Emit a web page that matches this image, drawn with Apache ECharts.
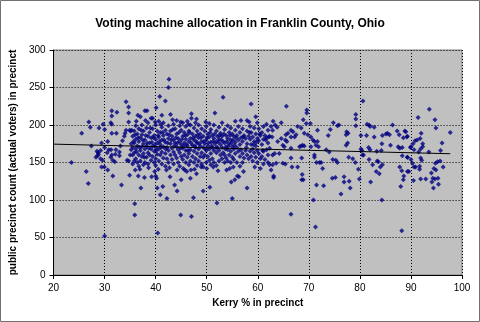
<!DOCTYPE html>
<html>
<head>
<meta charset="utf-8">
<script src="https://cdn.jsdelivr.net/npm/echarts@6/dist/echarts.min.js"></script>
<style>
html,body{margin:0;padding:0;background:#fff;}
#c{width:480px;height:322px;}
</style>
</head>
<body>
<div id="c"></div>
<script>
// Kerry % vs. public precinct count, grouped by Kerry-% range
const precinctsBelow35 = [
[23.5,150],[25.5,189],[26.9,204],[27.2,197],[26.4,138],[26.8,122],[27.4,172],[28.5,165],[28.7,163],[28.3,157],
[28.8,161],[29.2,166],[28.6,159],[28.9,196],[29.4,176],[29.7,201],[30.0,194],[29.6,153],[29.4,144],[29.95,144],
[30.0,52],[30.6,178],[30.6,140],[31.4,219],[31.4,212],[32.4,217],[31.2,203],[31.4,201],[31.4,189],[32.3,189],
[31.25,167],[31.4,160],[31.2,157],[32.1,161],[31.6,153],[32.0,151],[31.6,132],[33.3,120],[32.9,164],[32.9,159],
[33.1,172],[33.5,179],[33.85,185],[34.0,189],[34.2,193],[34.2,231],[34.7,224],[34.7,216],[34.7,204],[34.9,193],
[35.1,192],[35.3,193],[34.4,153],[34.7,152],[34.9,133],[35.2,175],[35.2,167],[35.0,160],[30.8,167],[30.5,163],
[30.0,170],[29.2,155],[32.2,167]
];
const precincts35to49 = [
[35.5,185],[35.5,170],[35.5,160],[35.5,148],[35.8,192],[35.8,176],[35.8,163],[35.8,152],
[36.1,199],[36.1,181],[36.1,168],[36.1,155],[36.4,188],[36.4,172],[36.4,150],[36.5,213],
[36.7,195],[36.7,178],[36.7,160],[36.7,145],[37.0,183],[37.0,166],[37.0,152],[37.0,211],
[37.3,200],[37.3,187],[37.3,171],[37.3,158],[37.6,192],[37.6,175],[37.6,162],[37.6,147],
[37.9,219],[37.9,180],[37.9,168],[37.9,150],[38.2,196],[38.2,172],[38.2,157],[38.3,219],
[38.5,203],[38.5,185],[38.5,163],[38.5,148],[38.8,190],[38.8,176],[38.8,160],
[39.1,209],[39.1,183],[39.1,168],[39.1,153],[39.4,209],[39.4,195],[39.4,172],[39.4,158],
[39.7,186],[39.7,165],[39.7,150],[40.0,200],[40.0,181],[40.0,170],[40.0,155],[40.0,146],
[40.1,223],[40.3,192],[40.3,176],[40.3,161],[40.6,205],[40.6,184],[40.6,168],[40.6,152],
[40.8,238],[40.9,190],[40.9,174],[40.9,160],[41.2,213],[41.2,197],[41.2,180],[41.2,164],[41.2,148],
[41.5,203],[41.5,186],[41.5,171],[41.5,156],[41.9,232],[41.9,193],[41.9,177],[41.9,162],[41.9,145],
[42.2,188],[42.2,170],[42.2,155],[42.5,250],[42.5,199],[42.5,182],[42.5,166],[42.5,150],[42.6,261],
[42.9,214],[42.9,192],[42.9,175],[42.9,160],[43.2,185],[43.2,169],[43.2,154],
[43.5,201],[43.5,180],[43.5,164],[43.5,148],[43.8,195],[43.8,176],[43.8,160],
[44.1,206],[44.1,188],[44.1,171],[44.1,156],[44.4,182],[44.4,167],[44.4,150],
[44.7,199],[44.7,178],[44.7,163],[44.7,145],[45.0,193],[45.0,174],[45.0,158],
[45.3,203],[45.3,185],[45.3,169],[45.3,154],[45.6,190],[45.6,176],[45.6,160],
[45.9,198],[45.9,181],[45.9,166],[45.9,150],[46.2,205],[46.2,187],[46.2,172],[46.2,157],
[46.5,192],[46.5,178],[46.5,162],[46.5,147],[46.8,200],[46.8,182],[46.8,167],[46.8,152],
[47.0,215],[47.0,209],[47.2,188],[47.2,173],[47.2,158],[47.5,196],[47.5,180],[47.5,165],[47.5,150],
[47.8,203],[47.8,185],[47.8,170],[47.8,155],[48.1,192],[48.1,176],[48.1,162],[48.1,146],
[48.4,200],[48.4,183],[48.4,168],[48.4,152],[48.7,188],[48.7,172],[48.7,158],
[49.0,195],[49.0,178],[49.0,163],[49.0,148],
[35.65,178],[35.95,187],[36.25,164],[36.55,183],[36.85,170],[37.15,193],[37.45,180],[37.75,157],
[38.05,186],[38.35,176],[38.65,169],[38.95,196],[39.25,177],[39.55,183],[39.85,174],[40.15,166],
[40.45,186],[40.75,178],[41.05,170],[41.35,190],[41.65,180],[41.95,168],[42.35,176],[42.65,187],
[43.05,180],[43.35,194],[43.65,172],[43.95,183],[44.25,176],[44.55,190],[44.85,169],[45.15,181],
[45.45,172],[45.75,186],[46.05,174],[46.35,166],[46.65,190],[46.95,176],[47.35,183],[47.65,172],
[47.95,178],[48.25,187],[48.55,175],[48.85,183],
[36.2,205],[38.0,206],[39.9,204],[41.0,201],[43.3,207],[44.9,204],[46.4,201],[48.0,208],
[36.9,141],[38.6,143],[40.5,141],[42.7,143],[44.2,140],[45.4,142],[47.6,141],[48.9,144],
[36.0,140],[36.6,132],[37.8,130],[37.1,116],[35.9,95],[35.9,80],[40.3,116],[41.4,118],[40.9,107],
[42.2,102],[40.4,56],[44.9,80],[47.0,78],[47.4,103],[43.7,120],[44.2,112],[45.0,127],[46.8,129],
[39.8,138],[40.0,132],[40.2,129],[39.2,131],[42.1,140],[42.8,131],[45.7,140],[46.1,138],[46.9,140],[48.0,135]
];
const precincts49to62 = [
[49.3,185],[49.3,170],[49.3,157],[49.6,192],[49.6,175],[49.6,160],[49.8,204],
[49.9,198],[49.9,180],[49.9,166],[49.9,150],[50.2,188],[50.2,172],[50.2,158],
[50.5,202],[50.5,184],[50.5,168],[50.5,153],[50.8,194],[50.8,177],[50.8,162],[50.8,147],
[51.1,186],[51.1,170],[51.1,155],[51.4,200],[51.4,182],[51.4,166],[51.4,150],
[51.6,216],[51.6,175],[51.9,192],[51.9,178],[51.9,163],[51.9,146],[52.1,185],[52.1,170],
[52.4,197],[52.4,181],[52.4,166],[52.4,152],[52.7,189],[52.7,174],[52.7,160],
[53.0,203],[53.0,185],[53.0,170],[53.0,155],[53.2,237],[53.2,178],[53.2,163],
[53.5,194],[53.5,176],[53.5,160],[53.8,186],[53.8,171],[53.8,156],
[54.1,199],[54.1,182],[54.1,167],[54.1,152],[54.4,190],[54.4,175],[54.4,160],
[54.7,196],[54.7,180],[54.7,165],[54.7,150],[55.0,188],[55.0,171],[55.0,157],
[55.3,185],[55.3,168],[55.3,154],[55.6,205],[55.6,193],[55.6,177],[55.6,162],
[55.9,186],[55.9,170],[55.9,150],[56.2,198],[56.2,180],[56.2,165],
[56.5,190],[56.5,174],[56.5,158],[56.5,145],[56.7,206],[56.7,183],[56.7,167],
[57.0,195],[57.0,178],[57.0,162],[57.0,150],[57.3,186],[57.3,156],
[57.6,182],[57.6,166],[57.9,206],[57.9,192],[57.9,175],[57.9,160],
[58.2,185],[58.2,155],[58.3,204],[58.5,198],[58.5,181],[58.5,165],
[58.7,228],[58.7,190],[58.7,174],[58.7,158],[59.0,184],[59.0,168],[59.0,152],
[59.3,196],[59.3,178],[59.3,163],[59.6,211],[59.6,188],[59.6,172],[59.6,157],
[59.9,203],[59.9,182],[59.9,166],[59.9,150],[60.2,195],[60.2,179],[60.2,162],
[60.5,186],[60.5,155],[60.8,190],[60.8,174],[60.8,158],
[61.1,198],[61.1,181],[61.1,165],[61.1,148],[61.4,186],[61.4,154],
[61.7,201],[61.7,183],[61.7,167],[62.0,193],[62.0,176],[62.0,160],[62.0,150],
[62.3,185],[62.3,169],[62.3,147],
[49.45,178],[49.75,168],[50.05,183],[50.35,176],[50.65,190],[50.95,172],[51.25,178],[51.55,188],
[51.85,170],[52.25,177],[52.55,186],[52.85,180],[53.35,188],[53.65,168],[53.95,178],[54.25,172],
[54.55,186],[54.85,176],[55.15,180],[55.45,173],[55.75,183],
[57.15,184],[57.75,170],[58.35,190],[59.15,174],[59.75,177],[60.35,188],[60.95,166],[61.55,180],[62.15,184],
[49.3,112],[50.6,117],[52.0,96],[55.0,102],[54.8,124],[55.5,127],[56.0,132],[56.3,131],[57.9,116],
[57.2,138],[59.4,144],[60.5,142],[49.3,144],[50.0,142],[51.3,144],[52.2,139],[53.5,150],[54.5,142],
[55.2,144],[53.9,140]
];
const precincts62to76 = [
[65.5,187],[65.9,189],[65.4,180],[65.7,178],[66.5,193],[66.9,191],[66.5,184],[67.2,184],[67.5,187],
[67.8,198],[68.5,196],[68.9,207],[69.5,202],[70.3,202],[69.1,189],[69.8,187],[70.4,184],[70.8,180],
[71.1,178],[71.7,178],[71.4,173],[71.7,193],[71.9,171],[70.4,171],[69.1,172],[68.8,173],[68.5,172],
[68.2,171],[66.5,169],[65.2,171],[64.9,173],[63.9,178],[64.6,182],[64.2,162],[63.3,162],[62.9,160],
[63.6,149],[62.9,147],[62.6,140],[64.9,149],[65.4,148],[66.7,144],[67.8,144],[68.6,156],[66.5,156],
[71.1,157],[71.1,160],[71.5,150],[72.1,150],[72.4,150],[72.7,142],[74.0,164],[74.7,154],[75.3,153],
[75.6,150],[73.4,167],[74.2,194],[73.8,186],[74.8,203],[75.6,199],[75.9,200],[74.6,129],[75.2,130],
[76.3,108],[68.7,134],[68.9,127],[68.6,127],[63.1,132],[63.1,130],[65.6,225],[69.6,220],[69.6,216],
[66.5,81],[71.3,64],[70.9,100],[71.5,120],[72.9,119],[62.6,198],[62.9,193],[62.8,184],
[63.0,205],[63.4,200],[63.8,197],[64.6,203]
];
const precincts76to90 = [
[80.6,232],[79.2,214],[79.2,208],[79.2,199],[81.4,201],[81.8,200],[82.0,198],[82.8,197],[86.4,200],
[87.3,192],[87.7,187],[88.8,192],[88.5,183],[89.3,185],[77.4,191],[77.7,189],[77.3,187],[77.6,176],
[77.3,173],[80.2,186],[81.3,186],[82.8,184],[84.4,186],[85.1,188],[85.4,189],[85.8,187],[80.2,168],
[80.4,166],[80.5,160],[81.7,170],[82.0,167],[83.3,165],[84.2,166],[84.3,175],[86.0,173],[87.5,171],
[87.8,169],[88.3,170],[89.9,170],[77.8,157],[78.6,155],[79.1,150],[79.7,141],[81.8,154],[82.5,147],
[83.4,152],[83.6,151],[84.0,144],[84.4,147],[83.2,138],[83.8,135],[76.9,131],[76.9,124],[77.9,125],
[78.1,116],[79.9,128],[82.1,124],[84.3,100],[88.2,59],[87.8,144],[88.2,139],[88.6,132],[88.5,127],
[88.0,118],[88.3,159],[89.3,157],[89.3,138],[89.6,138],[80.7,160]
];
const precinctsAbove90 = [
[93.6,221],[91.4,210],[94.7,207],[94.9,196],[97.7,190],[92.0,189],[91.8,182],[91.2,180],[90.8,179],
[90.4,175],[92.3,175],[92.3,171],[91.9,168],[91.5,164],[90.6,167],[90.0,171],[93.5,164],[96.1,176],
[95.8,166],[89.2,184],[89.0,191],[89.3,157],[90.0,154],[90.3,149],[91.9,156],[92.1,153],[91.7,145],
[90.9,144],[91.7,141],[90.6,144],[94.8,149],[95.2,151],[95.7,152],[94.5,142],[94.9,140],[96.3,144],
[94.0,136],[94.3,129],[94.7,128],[95.3,129],[94.1,124],[95.4,121],[94.4,116],[92.9,128],[90.5,126],[91.9,128]
];
// linear trend line endpoints
const trendX = [20, 97.7];
const trendY = [174.5, 161.7];
const xTicks = [20, 30, 40, 50, 60, 70, 80, 90, 100];
const yTicks = [0, 50, 100, 150, 200, 250, 300];

const points = [].concat(precinctsBelow35, precincts35to49, precincts49to62,
                         precincts62to76, precincts76to90, precinctsAbove90);
const trend = trendX.map((x, i) => [x, trendY[i]]);

const FONT = '"Liberation Sans", Arial, sans-serif';
const chart = echarts.init(document.getElementById('c'), null, {renderer: 'canvas'});
chart.setOption({
  animation: false,
  backgroundColor: '#ffffff',
  title: {
    text: 'Voting machine allocation in Franklin County, Ohio',
    left: 'center', top: 13,
    textStyle: {fontFamily: FONT, fontSize: 12, fontWeight: 'bold', color: '#000'}
  },
  grid: {left: 52, right: 18, top: 50, bottom: 47, show: true,
         backgroundColor: '#C0C0C0', borderColor: '#808080', borderWidth: 1},
  xAxis: {
    type: 'value', min: xTicks[0], max: xTicks[xTicks.length - 1], interval: 10,
    name: 'Kerry % in precinct', nameLocation: 'middle', nameGap: 23,
    nameTextStyle: {fontFamily: FONT, fontSize: 10, fontWeight: 'bold', color: '#000'},
    axisLine: {lineStyle: {color: '#000', width: 1}},
    axisTick: {show: true, length: 4, lineStyle: {color: '#000'}},
    axisLabel: {fontFamily: FONT, fontSize: 10, color: '#000', margin: 8},
    splitLine: {show: true, lineStyle: {color: '#000', type: [1, 2], width: 1}}
  },
  yAxis: {
    type: 'value', min: yTicks[0], max: yTicks[yTicks.length - 1], interval: 50,
    name: 'public precinct count (actual voters) in precinct', nameLocation: 'middle', nameGap: 34,
    nameTextStyle: {fontFamily: FONT, fontSize: 10, fontWeight: 'bold', color: '#000'},
    axisLine: {show: true, lineStyle: {color: '#000', width: 1}},
    axisTick: {show: true, length: 4, lineStyle: {color: '#000'}},
    axisLabel: {fontFamily: FONT, fontSize: 10, color: '#000', margin: 8},
    splitLine: {show: true, lineStyle: {color: '#000', type: [1, 2], width: 1}}
  },
  series: [
    {type: 'scatter', data: points, symbol: 'diamond', symbolSize: 5,
     itemStyle: {color: '#000080'}, z: 2},
    {type: 'line', data: trend, showSymbol: false, symbol: 'none',
     lineStyle: {color: '#000', width: 1}, z: 3}
  ],
  graphic: [{type: 'rect', shape: {x: 0.5, y: 0.5, width: 479, height: 321},
             style: {fill: 'none', stroke: '#707070', lineWidth: 1}, z: 100}]
});
</script>
</body>
</html>
